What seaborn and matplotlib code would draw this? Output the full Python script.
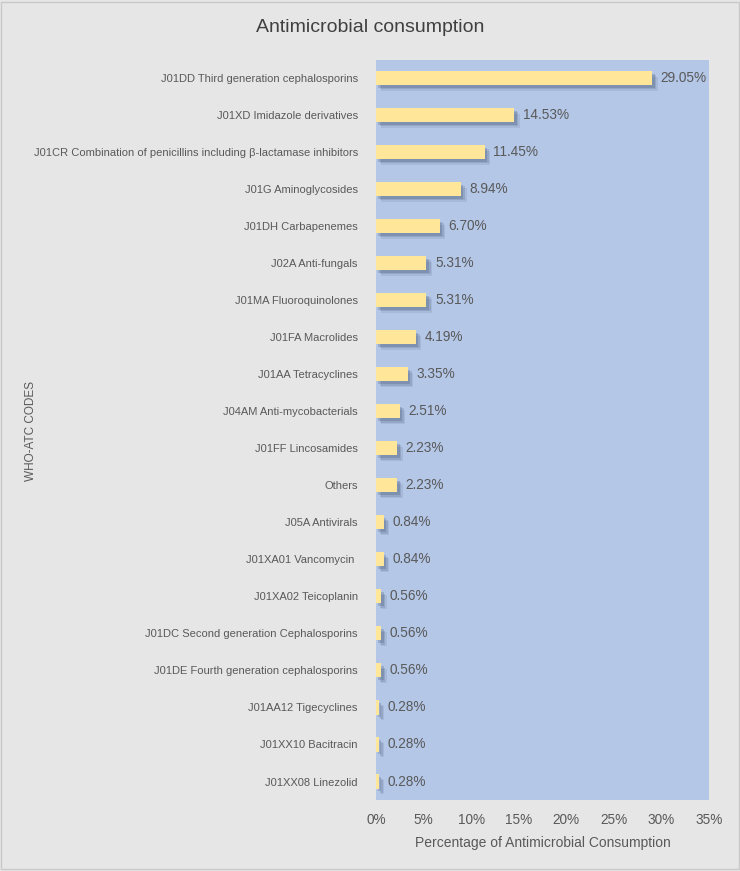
import matplotlib
matplotlib.use("Agg")
import matplotlib.pyplot as plt
import matplotlib.patheffects as pe
import seaborn as sns
import pandas as pd

categories = [
    "J01DD Third generation cephalosporins",
    "J01XD Imidazole derivatives",
    "J01CR Combination of penicillins including β-lactamase inhibitors",
    "J01G Aminoglycosides",
    "J01DH Carbapenemes",
    "J02A Anti-fungals",
    "J01MA Fluoroquinolones",
    "J01FA Macrolides",
    "J01AA Tetracyclines",
    "J04AM Anti-mycobacterials",
    "J01FF Lincosamides",
    "Others",
    "J05A Antivirals",
    "J01XA01 Vancomycin ",
    "J01XA02 Teicoplanin",
    "J01DC Second generation Cephalosporins",
    "J01DE Fourth generation cephalosporins",
    "J01AA12 Tigecyclines",
    "J01XX10 Bacitracin",
    "J01XX08 Linezolid",
]
values = [29.05, 14.53, 11.45, 8.94, 6.70, 5.31, 5.31, 4.19, 3.35, 2.51,
          2.23, 2.23, 0.84, 0.84, 0.56, 0.56, 0.56, 0.28, 0.28, 0.28]
xticks = [0, 5, 10, 15, 20, 25, 30, 35]
xtick_labels = ["0%", "5%", "10%", "15%", "20%", "25%", "30%", "35%"]

df = pd.DataFrame({"code": categories, "pct": values})

sns.set_theme(style="white")
plt.rcParams["font.family"] = ["Liberation Sans", "DejaVu Sans"]

fig = plt.figure(figsize=(7.4, 8.71), dpi=100, facecolor="#e7e6e6")
ax = fig.add_axes([0.508, 0.0815, 0.45, 0.85])
ax.set_facecolor("#b4c7e7")

sns.barplot(data=df, x="pct", y="code", color="#ffe699", saturation=1,
            width=0.38, ax=ax, orient="h", linewidth=0)
shadow = "#2f3e5c"
for p in ax.patches:
    p.set_path_effects([
        pe.SimplePatchShadow(offset=(4, -4), shadow_rgbFace=shadow, alpha=0.10),
        pe.SimplePatchShadow(offset=(3, -3), shadow_rgbFace=shadow, alpha=0.15),
        pe.SimplePatchShadow(offset=(1.8, -1.8), shadow_rgbFace=shadow, alpha=0.2),
        pe.Normal()])

text_color = "#595959"
for i, v in enumerate(values):
    ax.text(v + 0.9, i, f"{v:.2f}%", va="center", ha="left", fontsize=9.8, color=text_color)

ax.set_xlim(0, 35)
ax.set_xticks(xticks)
ax.set_xticklabels(xtick_labels, fontsize=9.8, color=text_color)
ax.tick_params(axis="y", labelsize=8.0, labelcolor=text_color, length=0, pad=13)
ax.tick_params(axis="x", length=0, pad=9)
for s in ax.spines.values():
    s.set_visible(False)
ax.set_xlabel("Percentage of Antimicrobial Consumption", fontsize=10, color=text_color, labelpad=7)
ax.set_ylabel("")
fig.text(0.042, 0.505, "WHO-ATC CODES", rotation=90, ha="center", va="center",
         fontsize=8.5, color=text_color)
fig.text(0.5, 0.969, "Antimicrobial consumption", ha="center", va="center",
         fontsize=14, color="#404040")

border = plt.Rectangle((0.002, 0.002), 0.996, 0.996, transform=fig.transFigure,
                       fill=False, edgecolor="#c9c9c9", linewidth=1)
fig.add_artist(border)

fig.savefig("out.png", dpi=100, facecolor=fig.get_facecolor())
